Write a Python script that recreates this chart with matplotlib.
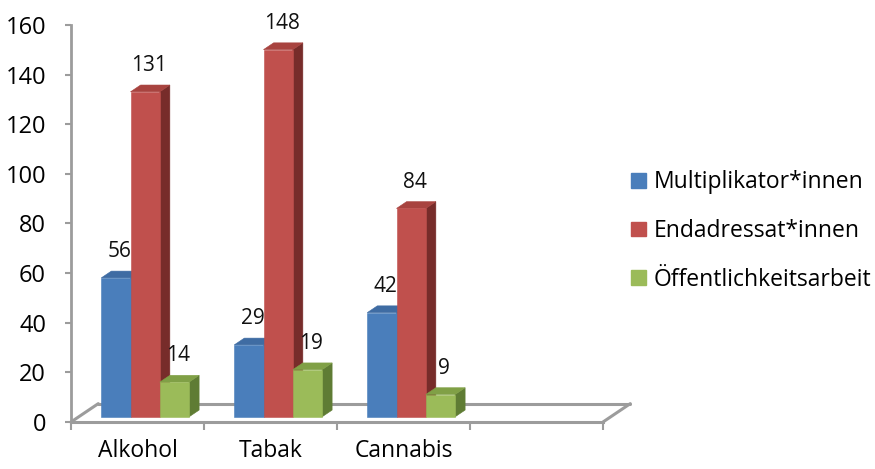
import matplotlib
matplotlib.use("Agg")
import matplotlib.pyplot as plt
from matplotlib.patches import Polygon, Patch

plt.rcParams['font.family'] = ['Open Sans', 'DejaVu Sans']

categories = ["Alkohol", "Tabak", "Cannabis"]
series_names = ["Multiplikator*innen", "Endadressat*innen", "Öffentlichkeitsarbeit"]
multiplikatoren = [56, 29, 42]
endadressaten = [131, 148, 84]
oeffentlichkeit = [14, 19, 9]
series_values = [multiplikatoren, endadressaten, oeffentlichkeit]
y_ticks = [0, 20, 40, 60, 80, 100, 120, 140, 160]

front_colors = ["#4A7EBB", "#C0504D", "#9BBB59"]
top_colors = ["#3F6CA3", "#A8433F", "#80A046"]
side_colors = ["#345A88", "#772C2A", "#5F7C34"]

n_slots = 4            # category slots along the floor (last one empty)
depth_dx = 0.205       # floor depth, x component (category units)
depth_dy = 7.4         # floor depth, y component (value units)
bar_f0, bar_f1 = 0.28, 0.65   # front / back of the bars as fraction of floor depth
bar_w = 0.22


def proj(x, y, f):
    return (x + f * depth_dx, y + f * depth_dy)


fig = plt.figure(figsize=(8.75, 4.69), dpi=100)
ax = fig.add_axes([71 / 875, 47 / 469, 532 / 875, 397 / 469])
ax.set_xlim(-0.5, n_slots - 0.5)
ax.set_ylim(0, 160)

grey = "#9C9C9C"

# floor outline
floor = [proj(-0.5, 0, 0), proj(n_slots - 0.5, 0, 0),
         proj(n_slots - 0.5, 0, 1), proj(-0.5, 0, 1)]
for a, b in [(1, 2), (2, 3), (3, 0)]:
    ax.plot([floor[a][0], floor[b][0]], [floor[a][1], floor[b][1]],
            color=grey, lw=2.2, solid_capstyle='round', clip_on=False, zorder=1)

# 3D columns, painted left to right
n_series = len(series_values)
for ci in range(len(categories)):
    for si in range(n_series):
        v = series_values[si][ci]
        xl = ci - n_series * bar_w / 2 + si * bar_w
        xr = xl + bar_w
        front = [proj(xl, 0, bar_f0), proj(xr, 0, bar_f0), proj(xr, v, bar_f0), proj(xl, v, bar_f0)]
        top = [proj(xl, v, bar_f0), proj(xr, v, bar_f0), proj(xr, v, bar_f1), proj(xl, v, bar_f1)]
        side = [proj(xr, 0, bar_f0), proj(xr, 0, bar_f1), proj(xr, v, bar_f1), proj(xr, v, bar_f0)]
        for poly, col in [(side, side_colors[si]), (top, top_colors[si]), (front, front_colors[si])]:
            ax.add_patch(Polygon(poly, closed=True, facecolor=col, edgecolor=col,
                                 lw=0.4, zorder=2, clip_on=False))
        lx, ly = proj((xl + xr) / 2, v, (bar_f0 + bar_f1) / 2)
        ax.text(lx - 0.01, ly + 5.0, str(v), ha='center', va='bottom', fontsize=15,
                color="#111111", zorder=3)

# axes styling
for s in ["top", "right"]:
    ax.spines[s].set_visible(False)
ax.spines["left"].set_color(grey)
ax.spines["left"].set_linewidth(2.0)
ax.spines["bottom"].set_color(grey)
ax.spines["bottom"].set_linewidth(2.2)
ax.set_yticks(y_ticks)
ax.set_yticklabels([str(t) for t in y_ticks])
ax.tick_params(axis='y', length=4, width=1.5, color=grey, pad=14, labelsize=17)
ax.set_xticks([i - 0.5 for i in range(n_slots + 1)])
ax.set_xticklabels([])
ax.tick_params(axis='x', which='major', length=6, width=1.5, color=grey)
ax.set_xticks(range(len(categories)), minor=True)
ax.set_xticklabels(categories, minor=True)
ax.tick_params(axis='x', which='minor', length=0, pad=12, labelsize=16.5)

handles = [Patch(facecolor=c, edgecolor=c) for c in front_colors]
fig.legend(handles, series_names, loc='center left', bbox_to_anchor=(620 / 875, 1 - 231 / 469),
           frameon=False, fontsize=16.5, handlelength=0.62, handleheight=0.62,
           handletextpad=0.35, labelspacing=1.08, borderpad=0)

fig.savefig("out.png", dpi=100)
